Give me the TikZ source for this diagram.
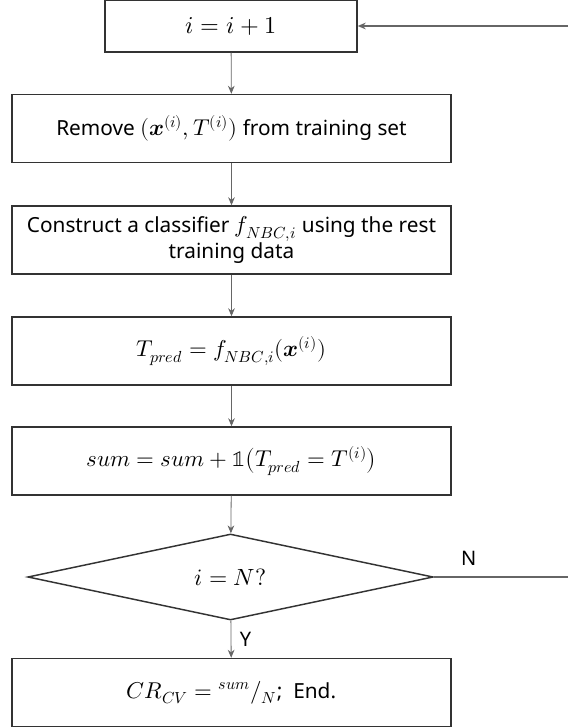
\documentclass[tikz,border=0pt]{standalone}
\usepackage{amsmath}
\usepackage{fontspec}
\usepackage{unicode-math}
\setmainfont{Noto Sans}
\setmathfont{Latin Modern Math}[Scale=1.1]
\usepackage{tikz}
\usetikzlibrary{shapes.geometric}
\usetikzlibrary{arrows.meta}

\begin{document}
\begin{tikzpicture}[x=0.75pt,y=-0.75pt]
      \useasboundingbox (0,0) rectangle (568,728);
      \tikzstyle {stepbox} = [shape=rectangle, draw=black!80, line width=1.1pt, minimum width=329pt, minimum height=51pt, inner sep=2pt, font=\fontsize{15.6}{17}\selectfont, align=center];
      \tikzstyle {flowline} = [draw=black!60, line width=0.6pt, -{Stealth[length=6pt,width=5pt]}];
      \node (inc) [stepbox, minimum width=189pt, minimum height=39pt, font=\fontsize{16.5}{19}\selectfont] at (231,26) {$i = i + 1$};
      \node (rm) [stepbox] at (231.5,128.5) {Remove $(\symbfit{x}^{(i)}, T^{(i)})$ from training set};
      \node (cls) [stepbox] at (231.5,240) {Construct a classifier $f_{NBC,i}$ using the rest\\training data};
      \node (pred) [stepbox] at (231.5,351) {$T_{pred} = f_{NBC,i}(\symbfit{x}^{(i)})$};
      \node (acc) [stepbox] at (231.5,461) {$sum = sum + \symbb{1}\bigl(T_{pred} = T^{(i)}\bigr)$};
      \node (test) [shape=diamond, draw=black!80, line width=1.1pt, inner sep=0pt, aspect=4.7, minimum width=304pt, minimum height=64.5pt, font=\fontsize{16}{17}\selectfont] at (230.5,577) {$i = N?$};
      \node (fin) [stepbox] at (231.5,692.5) {$CR_{CV} = {}^{sum}/_{N}$;\ \ End.};
      \coordinate (noout) at (568,577);
      \coordinate (back) at (568,26);
      \draw [flowline] (inc) -- (rm);
      \draw [flowline] (rm) -- (cls);
      \draw [flowline] (cls) -- (pred);
      \draw [flowline] (pred) -- (acc);
      \draw [flowline] (acc) -- (test);
      \draw [flowline] (test) -- node [right=3pt, font=\fontsize{15}{17}\selectfont] {Y} (fin);
      \draw [draw=black!60, line width=0.8pt] (test.east) -- node [pos=0.26, above=5pt, font=\fontsize{15}{17}\selectfont] {N} (noout);
      \draw [flowline, line width=1pt] (back) -- (inc.east);
    \end{tikzpicture}
\end{document}
